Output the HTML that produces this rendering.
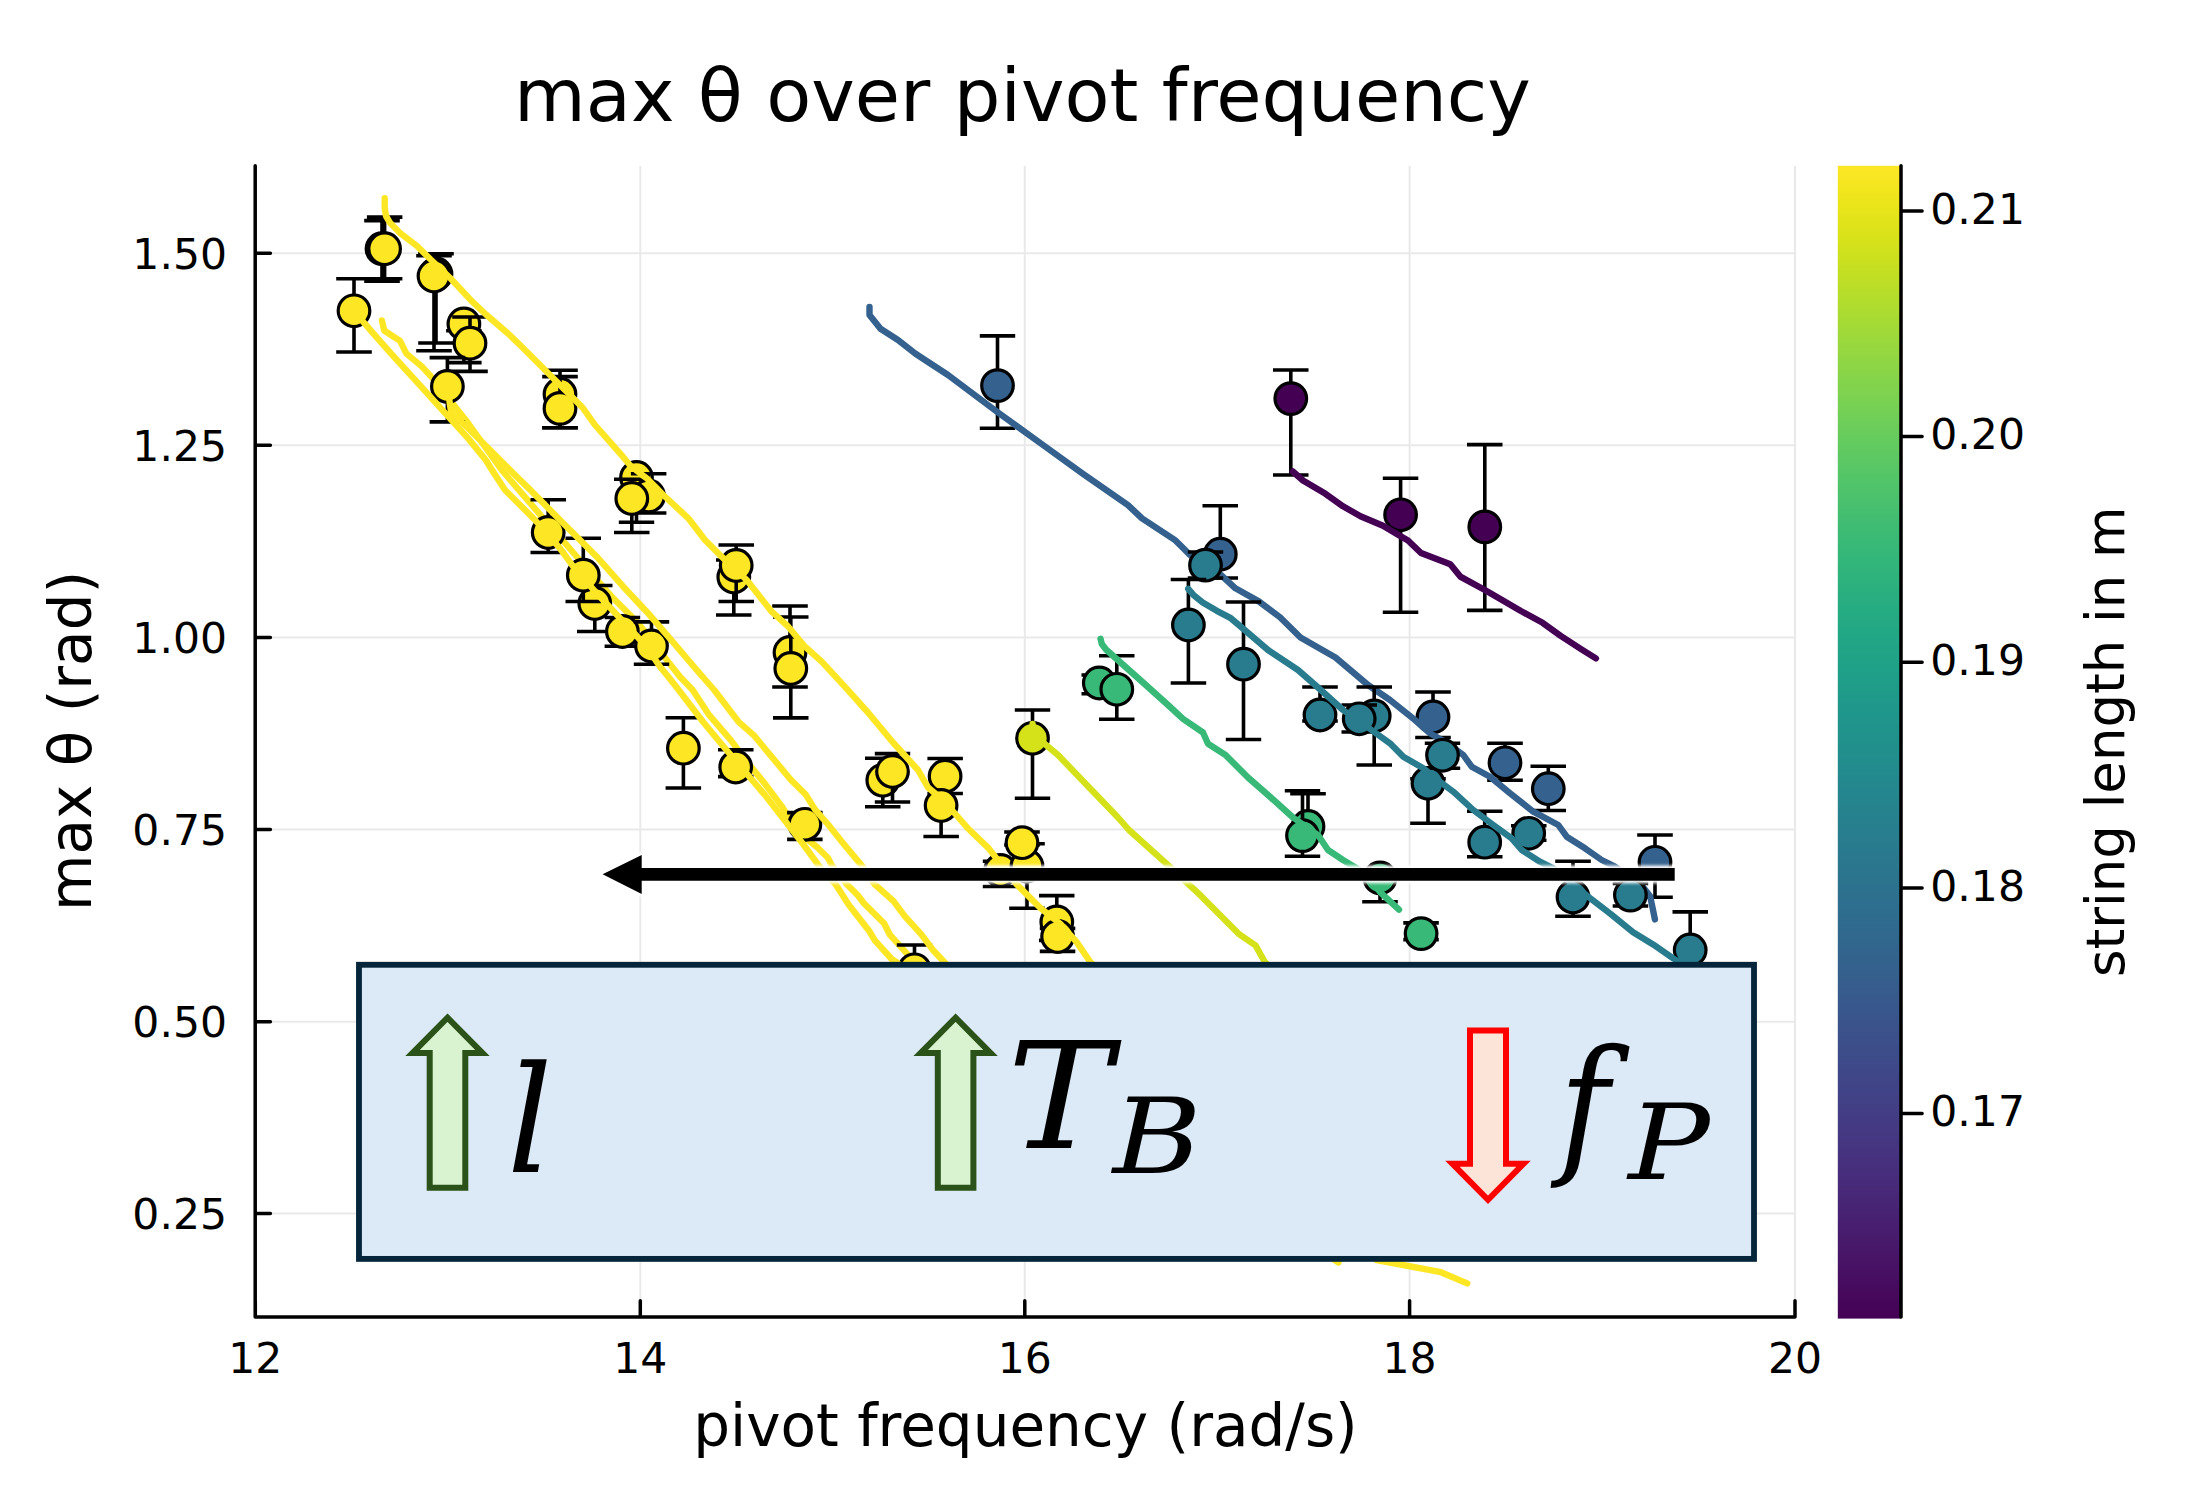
<!DOCTYPE html>
<html lang="en"><head><meta charset="utf-8"><title>max θ over pivot frequency</title>
<style>html,body{margin:0;padding:0;background:#fff}body{width:2192px;height:1499px;overflow:hidden}svg{display:block}text{font-family:"DejaVu Sans", "Liberation Sans", sans-serif;fill:#000}.m{font-family:"DejaVu Serif", "Liberation Serif", serif;font-style:italic}</style></head><body>
<svg width="2192" height="1499" viewBox="0 0 2192 1499">
<defs>
<linearGradient id="vg" x1="0" y1="0" x2="0" y2="1"><stop offset="0.0000" stop-color="#fde725"/><stop offset="0.0312" stop-color="#ece51b"/><stop offset="0.0625" stop-color="#d8e219"/><stop offset="0.0938" stop-color="#c2df23"/><stop offset="0.1250" stop-color="#addc30"/><stop offset="0.1562" stop-color="#98d83e"/><stop offset="0.1875" stop-color="#84d44b"/><stop offset="0.2188" stop-color="#70cf57"/><stop offset="0.2500" stop-color="#5ec962"/><stop offset="0.2812" stop-color="#4ec36b"/><stop offset="0.3125" stop-color="#3fbc73"/><stop offset="0.3438" stop-color="#32b67a"/><stop offset="0.3750" stop-color="#28ae80"/><stop offset="0.4062" stop-color="#22a785"/><stop offset="0.4375" stop-color="#1fa088"/><stop offset="0.4688" stop-color="#1f988b"/><stop offset="0.5000" stop-color="#21918c"/><stop offset="0.5312" stop-color="#23898e"/><stop offset="0.5625" stop-color="#26828e"/><stop offset="0.5938" stop-color="#297a8e"/><stop offset="0.6250" stop-color="#2c728e"/><stop offset="0.6562" stop-color="#2f6b8e"/><stop offset="0.6875" stop-color="#33638d"/><stop offset="0.7188" stop-color="#375b8d"/><stop offset="0.7500" stop-color="#3b528b"/><stop offset="0.7812" stop-color="#3e4989"/><stop offset="0.8125" stop-color="#424086"/><stop offset="0.8438" stop-color="#453781"/><stop offset="0.8750" stop-color="#472d7b"/><stop offset="0.9062" stop-color="#482374"/><stop offset="0.9375" stop-color="#48186a"/><stop offset="0.9688" stop-color="#470d60"/><stop offset="1.0000" stop-color="#440154"/></linearGradient>
<filter id="halo" x="-5%" y="-60%" width="110%" height="220%"><feGaussianBlur stdDeviation="1.6"/></filter>
<clipPath id="pa"><rect x="255.2" y="165.8" width="1539.8" height="1151.2"/></clipPath>
</defs>
<rect width="2192" height="1499" fill="#fff"/>
<path d="M255.3 165.8V1317.0M640.3 165.8V1317.0M1024.8 165.8V1317.0M1409.6 165.8V1317.0M1795.0 165.8V1317.0M255.2 253.2H1795.0M255.2 445.2H1795.0M255.2 637.4H1795.0M255.2 829.6H1795.0M255.2 1021.7H1795.0M255.2 1213.6H1795.0" stroke="#000" stroke-opacity="0.085" stroke-width="2" fill="none"/>
<g clip-path="url(#pa)">
<path d="M381.9 320.4 L384.2 330.5 L400.0 340.9 L406.4 353.6 L421.7 366.4 L435.8 381.7 L447.3 397.1 L467.7 422.6 L480.5 440.5 L501.7 470.0 L543.3 518.3 L566.7 545.0 L588.3 570.0 L613.3 598.3 L635.0 620.0 L655.0 643.3 L666.7 660.0 L680.0 676.7 L692.7 690.0 L708.6 714.3 L731.0 740.4 L747.8 762.9 L764.6 783.4 L781.4 805.8 L798.2 832.0 L816.9 846.9 L828.1 858.1 L831.9 865.6 L846.8 884.3 L858.0 895.5 L863.6 903.0 L884.2 923.5 L889.8 934.7 L908.5 955.3 L915.9 961.8 L1000.0 1050.0" fill="none" stroke="#fde725" stroke-width="6.4" stroke-linejoin="round" stroke-linecap="round"/>
<path d="M354.0 278.7V352.0M336.2 278.7H371.8M336.2 352.0H371.8" fill="none" stroke="#000" stroke-width="3.6"/>
<circle cx="354.0" cy="310.8" r="15.8" fill="#fde725" stroke="#000" stroke-width="3.2"/>
<path d="M382.0 220.6V281.3M364.2 220.6H399.8M364.2 281.3H399.8" fill="none" stroke="#000" stroke-width="3.6"/>
<circle cx="382.0" cy="248.7" r="15.8" fill="#fde725" stroke="#000" stroke-width="3.2"/>
<path d="M384.6 217.1V278.8M366.9 217.1H402.4M366.9 278.8H402.4" fill="none" stroke="#000" stroke-width="3.6"/>
<circle cx="384.6" cy="248.7" r="15.8" fill="#fde725" stroke="#000" stroke-width="3.2"/>
<path d="M436.0 253.7V343.0M418.2 253.7H453.8M418.2 343.0H453.8" fill="none" stroke="#000" stroke-width="3.6"/>
<circle cx="436.0" cy="274.0" r="15.8" fill="#fde725" stroke="#000" stroke-width="3.2"/>
<path d="M434.0 255.7V350.8M416.2 255.7H451.8M416.2 350.8H451.8" fill="none" stroke="#000" stroke-width="3.6"/>
<circle cx="434.0" cy="276.0" r="15.8" fill="#fde725" stroke="#000" stroke-width="3.2"/>
<path d="M463.9 330.7V362.6M446.1 330.7H481.6M446.1 362.6H481.6" fill="none" stroke="#000" stroke-width="3.6"/>
<circle cx="463.9" cy="324.0" r="15.8" fill="#fde725" stroke="#000" stroke-width="3.2"/>
<path d="M470.0 317.0V371.4M452.2 317.0H487.8M452.2 371.4H487.8" fill="none" stroke="#000" stroke-width="3.6"/>
<circle cx="470.0" cy="343.2" r="15.8" fill="#fde725" stroke="#000" stroke-width="3.2"/>
<path d="M447.4 357.6V421.9M429.6 357.6H465.1M429.6 421.9H465.1" fill="none" stroke="#000" stroke-width="3.6"/>
<circle cx="447.4" cy="386.5" r="15.8" fill="#fde725" stroke="#000" stroke-width="3.2"/>
<path d="M560.0 370.3V427.7M542.2 370.3H577.8M542.2 427.7H577.8" fill="none" stroke="#000" stroke-width="3.6"/>
<circle cx="560.0" cy="394.2" r="15.8" fill="#fde725" stroke="#000" stroke-width="3.2"/>
<path d="M560.0 376.6V427.7M542.2 376.6H577.8M542.2 427.7H577.8" fill="none" stroke="#000" stroke-width="3.6"/>
<circle cx="560.0" cy="408.4" r="15.8" fill="#fde725" stroke="#000" stroke-width="3.2"/>
<path d="M636.5 477.5V522.3M618.8 522.3H654.2" fill="none" stroke="#000" stroke-width="3.6"/>
<circle cx="636.5" cy="477.5" r="15.8" fill="#fde725" stroke="#000" stroke-width="3.2"/>
<path d="M648.6 473.8V513.0M630.9 473.8H666.4M630.9 513.0H666.4" fill="none" stroke="#000" stroke-width="3.6"/>
<circle cx="648.6" cy="496.0" r="15.8" fill="#fde725" stroke="#000" stroke-width="3.2"/>
<path d="M631.8 479.3V532.5M614.0 479.3H649.5M614.0 532.5H649.5" fill="none" stroke="#000" stroke-width="3.6"/>
<circle cx="631.8" cy="498.5" r="15.8" fill="#fde725" stroke="#000" stroke-width="3.2"/>
<path d="M548.2 499.8V552.5M530.5 499.8H566.0M530.5 552.5H566.0" fill="none" stroke="#000" stroke-width="3.6"/>
<circle cx="548.2" cy="532.5" r="15.8" fill="#fde725" stroke="#000" stroke-width="3.2"/>
<path d="M594.8 585.5V631.5M577.0 585.5H612.5M577.0 631.5H612.5" fill="none" stroke="#000" stroke-width="3.6"/>
<circle cx="594.8" cy="603.5" r="15.8" fill="#fde725" stroke="#000" stroke-width="3.2"/>
<path d="M583.3 538.2V601.5M565.5 538.2H601.0M565.5 601.5H601.0" fill="none" stroke="#000" stroke-width="3.6"/>
<circle cx="583.3" cy="575.2" r="15.8" fill="#fde725" stroke="#000" stroke-width="3.2"/>
<path d="M622.4 617.5V646.3M604.6 617.5H640.1M604.6 646.3H640.1" fill="none" stroke="#000" stroke-width="3.6"/>
<circle cx="622.4" cy="631.5" r="15.8" fill="#fde725" stroke="#000" stroke-width="3.2"/>
<path d="M651.5 621.9V664.3M633.8 621.9H669.2M633.8 664.3H669.2" fill="none" stroke="#000" stroke-width="3.6"/>
<circle cx="651.5" cy="646.0" r="15.8" fill="#fde725" stroke="#000" stroke-width="3.2"/>
<path d="M683.4 717.8V788.0M665.6 717.8H701.1M665.6 788.0H701.1" fill="none" stroke="#000" stroke-width="3.6"/>
<circle cx="683.4" cy="748.2" r="15.8" fill="#fde725" stroke="#000" stroke-width="3.2"/>
<path d="M735.7 749.7V776.6M718.0 749.7H753.5M718.0 776.6H753.5" fill="none" stroke="#000" stroke-width="3.6"/>
<circle cx="735.7" cy="767.0" r="15.8" fill="#fde725" stroke="#000" stroke-width="3.2"/>
<path d="M804.9 812.6V839.4M787.1 812.6H822.6M787.1 839.4H822.6" fill="none" stroke="#000" stroke-width="3.6"/>
<circle cx="804.9" cy="824.3" r="15.8" fill="#fde725" stroke="#000" stroke-width="3.2"/>
<path d="M733.8 560.0V615.0M716.0 560.0H751.5M716.0 615.0H751.5" fill="none" stroke="#000" stroke-width="3.6"/>
<circle cx="733.8" cy="577.0" r="15.8" fill="#fde725" stroke="#000" stroke-width="3.2"/>
<path d="M736.2 545.0V601.5M718.5 545.0H754.0M718.5 601.5H754.0" fill="none" stroke="#000" stroke-width="3.6"/>
<circle cx="736.2" cy="565.5" r="15.8" fill="#fde725" stroke="#000" stroke-width="3.2"/>
<path d="M790.0 606.0V687.0M772.2 606.0H807.8M772.2 687.0H807.8" fill="none" stroke="#000" stroke-width="3.6"/>
<circle cx="790.0" cy="652.5" r="15.8" fill="#fde725" stroke="#000" stroke-width="3.2"/>
<path d="M790.8 617.0V717.9M773.0 617.0H808.5M773.0 717.9H808.5" fill="none" stroke="#000" stroke-width="3.6"/>
<circle cx="790.8" cy="668.5" r="15.8" fill="#fde725" stroke="#000" stroke-width="3.2"/>
<path d="M882.8 758.2V806.8M865.0 758.2H900.5M865.0 806.8H900.5" fill="none" stroke="#000" stroke-width="3.6"/>
<circle cx="882.8" cy="780.3" r="15.8" fill="#fde725" stroke="#000" stroke-width="3.2"/>
<path d="M892.5 753.6V802.0M874.8 753.6H910.2M874.8 802.0H910.2" fill="none" stroke="#000" stroke-width="3.6"/>
<circle cx="892.5" cy="771.5" r="15.8" fill="#fde725" stroke="#000" stroke-width="3.2"/>
<path d="M945.1 758.5V793.5M927.4 758.5H962.9M927.4 793.5H962.9" fill="none" stroke="#000" stroke-width="3.6"/>
<circle cx="945.1" cy="776.2" r="15.8" fill="#fde725" stroke="#000" stroke-width="3.2"/>
<path d="M941.1 805.5V836.5M923.4 836.5H958.9" fill="none" stroke="#000" stroke-width="3.6"/>
<circle cx="941.1" cy="805.5" r="15.8" fill="#fde725" stroke="#000" stroke-width="3.2"/>
<path d="M1000.5 861.3V886.5M982.8 861.3H1018.2M982.8 886.5H1018.2" fill="none" stroke="#000" stroke-width="3.6"/>
<circle cx="1000.5" cy="870.5" r="15.8" fill="#fde725" stroke="#000" stroke-width="3.2"/>
<path d="M1027.0 843.8V908.3M1009.2 843.8H1044.8M1009.2 908.3H1044.8" fill="none" stroke="#000" stroke-width="3.6"/>
<circle cx="1027.0" cy="866.0" r="15.8" fill="#fde725" stroke="#000" stroke-width="3.2"/>
<path d="M1022.0 832.0V845.0M1004.2 832.0H1039.8M1004.2 845.0H1039.8" fill="none" stroke="#000" stroke-width="3.6"/>
<circle cx="1022.0" cy="842.7" r="15.8" fill="#fde725" stroke="#000" stroke-width="3.2"/>
<path d="M1056.8 895.6V940.4M1039.0 895.6H1074.5M1039.0 940.4H1074.5" fill="none" stroke="#000" stroke-width="3.6"/>
<circle cx="1056.8" cy="922.0" r="15.8" fill="#fde725" stroke="#000" stroke-width="3.2"/>
<path d="M1057.6 928.4V951.4M1039.8 928.4H1075.3M1039.8 951.4H1075.3" fill="none" stroke="#000" stroke-width="3.6"/>
<circle cx="1057.6" cy="936.5" r="15.8" fill="#fde725" stroke="#000" stroke-width="3.2"/>
<path d="M914.5 945.0V990.0M896.8 945.0H932.2M896.8 990.0H932.2" fill="none" stroke="#000" stroke-width="3.6"/>
<circle cx="914.5" cy="969.8" r="15.8" fill="#fde725" stroke="#000" stroke-width="3.2"/>
<path d="M354.3 311.5 L371.9 331.9 L391.1 353.6 L416.6 381.7 L442.2 409.8 L467.7 437.9 L485.6 459.7 L492.0 470.0 L505.0 490.0 L535.0 520.0 L560.0 548.3 L573.3 566.7 L596.7 593.3 L621.7 620.0 L646.7 646.7 L660.0 666.7 L668.3 676.7 L678.7 690.0 L703.0 721.8 L721.6 744.2 L764.6 794.6 L790.8 828.2 L803.8 845.0 L818.8 865.6 L835.6 884.3 L848.7 904.8 L869.2 931.0 L874.8 940.3 L891.6 959.0 L897.3 962.7 L980.0 1050.0" fill="none" stroke="#fde725" stroke-width="6.4" stroke-linejoin="round" stroke-linecap="round"/>
<path d="M447.3 386.2 L451.1 412.4 L467.7 427.7 L493.3 453.3 L518.8 478.8 L530.3 489.9 L560.0 520.0 L580.0 540.0 L596.7 556.7 L623.3 586.7 L646.7 611.7 L668.3 636.7 L696.7 670.0 L714.2 690.0 L738.5 721.8 L753.4 734.8 L772.1 757.3 L790.8 779.7 L805.7 794.6 L815.1 809.6 L828.1 824.5 L843.1 843.2 L861.8 865.6 L874.8 884.3 L893.5 901.1 L904.7 916.1 L921.5 934.7 L932.7 949.7 L944.0 961.8 L1030.0 1050.0" fill="none" stroke="#fde725" stroke-width="6.4" stroke-linejoin="round" stroke-linecap="round"/>
<path d="M384.7 198.3 L384.7 208.0 L386.0 216.0 L390.2 223.1 L400.3 233.2 L417.3 246.2 L430.4 259.3 L450.4 278.3 L472.0 301.4 L486.0 314.5 L508.0 333.5 L520.0 345.0 L560.0 385.0 L582.5 407.5 L595.0 425.0 L620.0 453.3 L630.0 465.3 L640.4 473.6 L647.0 478.5 L663.3 495.0 L688.3 518.3 L705.0 540.0 L721.7 556.7 L746.7 580.0 L771.7 611.7 L788.3 626.7 L805.0 646.7 L821.7 661.7 L844.8 686.7 L868.0 712.5 L893.0 742.5 L918.0 770.0 L928.0 787.5 L943.0 800.0 L968.5 829.0 L988.5 848.1 L1016.6 884.2 L1040.7 908.3 L1060.8 924.3 L1076.9 942.4 L1089.9 961.5 L1376.6 1260.0 L1440.9 1272.2 L1467.2 1283.4" fill="none" stroke="#fde725" stroke-width="6.4" stroke-linejoin="round" stroke-linecap="round"/>
<path d="M1320.0 1250.0 L1338.5 1262.5" fill="none" stroke="#fde725" stroke-width="6.4" stroke-linejoin="round" stroke-linecap="round"/>
<path d="M1032.5 710.0V798.3M1014.8 710.0H1050.2M1014.8 798.3H1050.2" fill="none" stroke="#000" stroke-width="3.6"/>
<circle cx="1032.5" cy="738.3" r="15.8" fill="#d5e21a" stroke="#000" stroke-width="3.2"/>
<path d="M1032.6 724.0 L1033.0 738.0 L1043.0 742.5 L1058.0 755.0 L1088.0 786.3 L1118.0 817.5 L1129.0 830.0 L1169.2 866.1 L1201.3 896.2 L1239.4 934.4 L1255.5 945.4 L1264.5 961.5 L1300.0 1000.0" fill="none" stroke="#d5e21a" stroke-width="6.4" stroke-linejoin="round" stroke-linecap="round"/>
<path d="M1099.3 675.0V693.8M1081.5 675.0H1117.0M1081.5 693.8H1117.0" fill="none" stroke="#000" stroke-width="3.6"/>
<circle cx="1099.3" cy="683.0" r="15.8" fill="#38b977" stroke="#000" stroke-width="3.2"/>
<path d="M1116.8 655.8V719.3M1099.0 655.8H1134.5M1099.0 719.3H1134.5" fill="none" stroke="#000" stroke-width="3.6"/>
<circle cx="1116.8" cy="689.3" r="15.8" fill="#38b977" stroke="#000" stroke-width="3.2"/>
<path d="M1308.0 793.8V840.0M1290.2 793.8H1325.8" fill="none" stroke="#000" stroke-width="3.6"/>
<circle cx="1308.0" cy="826.5" r="15.8" fill="#38b977" stroke="#000" stroke-width="3.2"/>
<path d="M1302.5 790.8V856.3M1284.8 790.8H1320.2M1284.8 856.3H1320.2" fill="none" stroke="#000" stroke-width="3.6"/>
<circle cx="1302.5" cy="835.6" r="15.8" fill="#38b977" stroke="#000" stroke-width="3.2"/>
<path d="M1380.0 872.0V901.7M1362.2 872.0H1397.8M1362.2 901.7H1397.8" fill="none" stroke="#000" stroke-width="3.6"/>
<circle cx="1380.0" cy="878.0" r="15.8" fill="#38b977" stroke="#000" stroke-width="3.2"/>
<path d="M1421.1 922.9V939.6M1403.3 922.9H1438.8M1403.3 939.6H1438.8" fill="none" stroke="#000" stroke-width="3.6"/>
<circle cx="1421.1" cy="933.6" r="15.8" fill="#38b977" stroke="#000" stroke-width="3.2"/>
<path d="M1100.5 638.8 L1101.8 644.0 L1106.0 649.5 L1120.0 662.0 L1143.0 682.5 L1168.0 705.0 L1183.0 718.8 L1203.0 732.5 L1208.0 743.8 L1225.5 755.0 L1248.0 777.5 L1268.0 795.0 L1293.0 817.5 L1318.0 835.0 L1328.0 850.0 L1343.0 860.0 L1368.0 875.0 L1380.1 892.2 L1399.0 909.7" fill="none" stroke="#38b977" stroke-width="6.4" stroke-linejoin="round" stroke-linecap="round"/>
<path d="M1290.8 370.0V475.0M1273.0 370.0H1308.5M1273.0 475.0H1308.5" fill="none" stroke="#000" stroke-width="3.6"/>
<circle cx="1290.8" cy="398.6" r="15.8" fill="#440154" stroke="#000" stroke-width="3.2"/>
<path d="M1400.6 478.2V612.3M1382.8 478.2H1418.3M1382.8 612.3H1418.3" fill="none" stroke="#000" stroke-width="3.6"/>
<circle cx="1400.6" cy="514.8" r="15.8" fill="#440154" stroke="#000" stroke-width="3.2"/>
<path d="M1484.8 444.6V610.4M1467.0 444.6H1502.5M1467.0 610.4H1502.5" fill="none" stroke="#000" stroke-width="3.6"/>
<circle cx="1484.8" cy="526.9" r="15.8" fill="#440154" stroke="#000" stroke-width="3.2"/>
<path d="M1292.8 471.5 L1303.0 480.5 L1325.5 493.8 L1343.0 506.3 L1360.5 516.3 L1383.0 525.8 L1396.0 533.5 L1408.0 540.5 L1421.0 553.0 L1450.3 564.2 L1460.3 576.6 L1484.4 589.7 L1520.5 610.8 L1542.6 622.8 L1560.7 635.9 L1580.7 648.9 L1595.9 658.4" fill="none" stroke="#440154" stroke-width="6.4" stroke-linejoin="round" stroke-linecap="round"/>
<path d="M997.5 335.9V428.3M979.8 335.9H1015.2M979.8 428.3H1015.2" fill="none" stroke="#000" stroke-width="3.6"/>
<circle cx="997.5" cy="385.6" r="15.8" fill="#34618d" stroke="#000" stroke-width="3.2"/>
<path d="M1220.3 505.8V578.0M1202.5 505.8H1238.0M1202.5 578.0H1238.0" fill="none" stroke="#000" stroke-width="3.6"/>
<circle cx="1220.3" cy="554.2" r="15.8" fill="#34618d" stroke="#000" stroke-width="3.2"/>
<path d="M1433.0 692.0V737.5M1415.2 692.0H1450.8M1415.2 737.5H1450.8" fill="none" stroke="#000" stroke-width="3.6"/>
<circle cx="1433.0" cy="717.0" r="15.8" fill="#34618d" stroke="#000" stroke-width="3.2"/>
<path d="M1505.0 743.3V780.3M1487.2 743.3H1522.8M1487.2 780.3H1522.8" fill="none" stroke="#000" stroke-width="3.6"/>
<circle cx="1505.0" cy="762.8" r="15.8" fill="#34618d" stroke="#000" stroke-width="3.2"/>
<path d="M1548.3 766.3V810.5M1530.5 766.3H1566.0M1530.5 810.5H1566.0" fill="none" stroke="#000" stroke-width="3.6"/>
<circle cx="1548.3" cy="788.7" r="15.8" fill="#34618d" stroke="#000" stroke-width="3.2"/>
<path d="M1655.0 835.0V897.3M1637.2 835.0H1672.8M1637.2 897.3H1672.8" fill="none" stroke="#000" stroke-width="3.6"/>
<circle cx="1655.0" cy="862.3" r="15.8" fill="#34618d" stroke="#000" stroke-width="3.2"/>
<path d="M869.5 307.0 L869.5 315.0 L880.5 328.8 L898.0 340.0 L915.5 353.8 L948.0 375.0 L998.0 412.5 L1043.0 445.0 L1083.0 473.8 L1128.0 505.2 L1142.0 518.3 L1174.7 539.8 L1184.1 549.1 L1189.7 554.7 L1205.0 566.0 L1221.4 575.3 L1235.4 588.3 L1258.8 601.4 L1280.0 617.3 L1300.5 637.5 L1335.5 657.5 L1368.0 685.0 L1390.0 700.0 L1415.0 720.0 L1430.0 733.3 L1445.0 741.7 L1463.3 755.0 L1471.7 766.7 L1490.0 776.7 L1510.0 793.3 L1533.3 811.7 L1558.3 825.0 L1566.7 836.7 L1585.0 848.3 L1601.7 860.0 L1615.0 866.7 L1640.0 883.3 L1650.1 896.2 L1653.1 910.3 L1654.9 919.4" fill="none" stroke="#34618d" stroke-width="6.4" stroke-linejoin="round" stroke-linecap="round"/>
<path d="M1205.5 552.0V578.0M1187.8 552.0H1223.2M1187.8 578.0H1223.2" fill="none" stroke="#000" stroke-width="3.6"/>
<circle cx="1205.5" cy="565.2" r="15.8" fill="#297b8e" stroke="#000" stroke-width="3.2"/>
<path d="M1188.4 579.5V683.0M1170.7 579.5H1206.2M1170.7 683.0H1206.2" fill="none" stroke="#000" stroke-width="3.6"/>
<circle cx="1188.4" cy="625.0" r="15.8" fill="#297b8e" stroke="#000" stroke-width="3.2"/>
<path d="M1243.5 602.0V739.5M1225.8 602.0H1261.2M1225.8 739.5H1261.2" fill="none" stroke="#000" stroke-width="3.6"/>
<circle cx="1243.5" cy="664.2" r="15.8" fill="#297b8e" stroke="#000" stroke-width="3.2"/>
<path d="M1320.0 687.0V721.0M1302.2 687.0H1337.8M1302.2 721.0H1337.8" fill="none" stroke="#000" stroke-width="3.6"/>
<circle cx="1320.0" cy="715.0" r="15.8" fill="#297b8e" stroke="#000" stroke-width="3.2"/>
<path d="M1374.2 687.0V765.0M1356.5 687.0H1392.0M1356.5 765.0H1392.0" fill="none" stroke="#000" stroke-width="3.6"/>
<circle cx="1374.2" cy="716.0" r="15.8" fill="#297b8e" stroke="#000" stroke-width="3.2"/>
<path d="M1359.2 705.0V732.0M1341.5 705.0H1377.0M1341.5 732.0H1377.0" fill="none" stroke="#000" stroke-width="3.6"/>
<circle cx="1359.2" cy="718.8" r="15.8" fill="#297b8e" stroke="#000" stroke-width="3.2"/>
<path d="M1428.0 778.7V823.3M1410.2 778.7H1445.8M1410.2 823.3H1445.8" fill="none" stroke="#000" stroke-width="3.6"/>
<circle cx="1428.0" cy="783.3" r="15.8" fill="#297b8e" stroke="#000" stroke-width="3.2"/>
<path d="M1442.5 743.3V768.3M1424.8 743.3H1460.2M1424.8 768.3H1460.2" fill="none" stroke="#000" stroke-width="3.6"/>
<circle cx="1442.5" cy="755.3" r="15.8" fill="#297b8e" stroke="#000" stroke-width="3.2"/>
<path d="M1484.7 811.3V856.7M1467.0 811.3H1502.5M1467.0 856.7H1502.5" fill="none" stroke="#000" stroke-width="3.6"/>
<circle cx="1484.7" cy="842.2" r="15.8" fill="#297b8e" stroke="#000" stroke-width="3.2"/>
<path d="M1528.7 825.8V840.3M1511.0 825.8H1546.5M1511.0 840.3H1546.5" fill="none" stroke="#000" stroke-width="3.6"/>
<circle cx="1528.7" cy="833.3" r="15.8" fill="#297b8e" stroke="#000" stroke-width="3.2"/>
<path d="M1573.0 861.2V916.3M1555.2 861.2H1590.8M1555.2 916.3H1590.8" fill="none" stroke="#000" stroke-width="3.6"/>
<circle cx="1573.0" cy="897.0" r="15.8" fill="#297b8e" stroke="#000" stroke-width="3.2"/>
<path d="M1630.4 883.5V906.0M1612.7 883.5H1648.2M1612.7 906.0H1648.2" fill="none" stroke="#000" stroke-width="3.6"/>
<circle cx="1630.4" cy="895.1" r="15.8" fill="#297b8e" stroke="#000" stroke-width="3.2"/>
<path d="M1690.2 911.9V990.0M1672.5 911.9H1708.0M1672.5 990.0H1708.0" fill="none" stroke="#000" stroke-width="3.6"/>
<circle cx="1690.2" cy="950.0" r="15.8" fill="#297b8e" stroke="#000" stroke-width="3.2"/>
<path d="M1188.2 588.8 L1193.4 594.9 L1202.7 602.4 L1216.8 610.8 L1230.8 618.2 L1240.0 626.0 L1268.0 650.0 L1298.0 670.0 L1318.0 687.5 L1343.0 710.0 L1368.0 727.5 L1390.0 743.3 L1403.3 756.7 L1423.3 768.3 L1440.0 781.7 L1453.3 791.7 L1473.3 810.0 L1493.3 825.0 L1511.7 838.3 L1521.7 850.0 L1540.0 861.7 L1552.8 868.1 L1588.9 897.2 L1611.0 914.3 L1633.1 932.3 L1653.1 944.4 L1673.2 958.4 L1700.0 975.0" fill="none" stroke="#297b8e" stroke-width="6.4" stroke-linejoin="round" stroke-linecap="round"/>
</g>
<path d="M255.2 165.8V1317.0H1795.0M255.3 1317.0V1300.8M640.3 1317.0V1300.8M1024.8 1317.0V1300.8M1409.6 1317.0V1300.8M1795.0 1317.0V1300.8M255.2 253.2H270.4M255.2 445.2H270.4M255.2 637.4H270.4M255.2 829.6H270.4M255.2 1021.7H270.4M255.2 1213.6H270.4" stroke="#000" stroke-width="3.5" fill="none" stroke-linecap="round" stroke-linejoin="round"/>
<text x="255.3" y="1372.8" font-size="42.5" text-anchor="middle">12</text>
<text x="640.3" y="1372.8" font-size="42.5" text-anchor="middle">14</text>
<text x="1024.8" y="1372.8" font-size="42.5" text-anchor="middle">16</text>
<text x="1409.6" y="1372.8" font-size="42.5" text-anchor="middle">18</text>
<text x="1795.0" y="1372.8" font-size="42.5" text-anchor="middle">20</text>
<text x="227" y="268.7" font-size="42.5" text-anchor="end">1.50</text>
<text x="227" y="460.7" font-size="42.5" text-anchor="end">1.25</text>
<text x="227" y="652.9" font-size="42.5" text-anchor="end">1.00</text>
<text x="227" y="845.1" font-size="42.5" text-anchor="end">0.75</text>
<text x="227" y="1037.2" font-size="42.5" text-anchor="end">0.50</text>
<text x="227" y="1229.1" font-size="42.5" text-anchor="end">0.25</text>
<text x="1022.5" y="121.3" font-size="73.6" text-anchor="middle">max θ over pivot frequency</text>
<text x="1025.5" y="1446" font-size="58" text-anchor="middle">pivot frequency (rad/s)</text>
<text transform="translate(91 741) rotate(-90)" font-size="58" text-anchor="middle">max θ (rad)</text>
<rect x="1837.8" y="165.8" width="63.0" height="1152.8" fill="url(#vg)"/>
<path d="M1901.0 165.8V1317.0M1901.0 211.0H1922.1M1901.0 436.6H1922.1M1901.0 662.2H1922.1M1901.0 887.9H1922.1M1901.0 1113.6H1922.1" stroke="#000" stroke-width="3.5" fill="none" stroke-linecap="round"/>
<text x="1930.3" y="223.7" font-size="42.5">0.21</text>
<text x="1930.3" y="449.3" font-size="42.5">0.20</text>
<text x="1930.3" y="674.9" font-size="42.5">0.19</text>
<text x="1930.3" y="900.6" font-size="42.5">0.18</text>
<text x="1930.3" y="1126.3" font-size="42.5">0.17</text>
<text transform="translate(2124 741.7) rotate(-90)" font-size="52.9" text-anchor="middle">string length in m</text>
<path d="M602.6 874.3L641.7 854.9V867.9H1674.7V880.7H641.7V893.9Z" fill="#fff" stroke="#fff" stroke-width="5" filter="url(#halo)"/>
<path d="M602.6 874.3L641.7 854.9V867.9H1674.7V880.7H641.7V893.9Z" fill="#000"/>
<rect x="358.98" y="964.78" width="1395.03" height="294.12" fill="#dce9f6" stroke="#04253a" stroke-width="5.84"/>
<path d="M447.5 1017.7L482.5 1053.1H465.3V1187.8H429.7V1053.1H412.5Z" fill="#d9f2d0" stroke="#2b5218" stroke-width="6"/>
<path d="M955.6 1017.7L990.6 1053.1H973.4V1187.8H937.8000000000001V1053.1H920.6Z" fill="#d9f2d0" stroke="#2b5218" stroke-width="6"/>
<path d="M1470.0 1030.6H1506.0V1163.7H1523.6L1488.0 1199.8L1452.4 1163.7H1470.0Z" fill="#fde4d8" stroke="#ff0000" stroke-width="6"/>
<text class="m" transform="translate(507.1 1172.0) scale(0.964 1)" font-size="147.8">l</text><text class="m" transform="translate(1007.2 1147.7) scale(1.057 1)" font-size="148.5">T</text><text class="m" transform="translate(1112.8 1172.7) scale(1.161 1)" font-size="104.1">B</text><text class="m" transform="translate(1558.9 1156.5) scale(0.910 1)" font-size="149.5">f</text><text class="m" transform="translate(1628.2 1179.4) scale(1.162 1)" font-size="104.4">P</text>
</svg></body></html>
